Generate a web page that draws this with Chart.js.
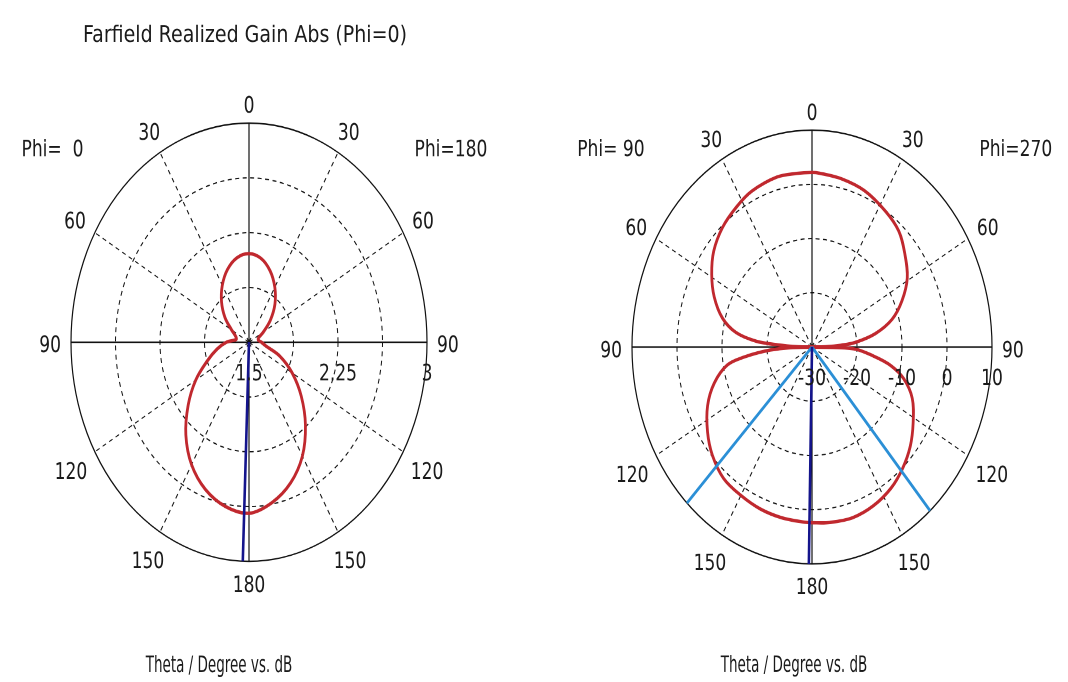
<!DOCTYPE html>
<html>
<head>
<meta charset="utf-8">
<title>Farfield Realized Gain Abs</title>
<script src="https://cdn.jsdelivr.net/npm/chart.js@4.4.1/dist/chart.umd.min.js"></script>
<style>
  html, body { margin: 0; padding: 0; background: #fff; width: 1068px; height: 682px; overflow: hidden; }
  .pane { position: absolute; top: 0; width: 534px; transform-origin: 0 0; }
  #paneA { left: 0; height: 554px; transform: scaleY(1.2310); }
  #paneB { left: 534px; height: 566px; transform: scaleY(1.2049); }
  canvas { display: block; }
</style>
</head>
<body>
<div class="pane" id="paneA"><canvas id="cutA" width="534" height="554"></canvas></div>
<div class="pane" id="paneB"><canvas id="cutB" width="534" height="566"></canvas></div>
<script>
// ---- cut 1: Phi = 0 / Phi = 180, linear dB scale 1.5 .. 3 ----
const thetaA = [0, 10, 20, 30, 40, 50, 60, 70, 80, 90, 100, 110, 120, 130, 140, 150, 160, 170, 180];
const gainPhi0 = [2.107, 2.087, 2.030, 1.950, 1.860, 1.765, 1.670, 1.620, 1.610, 1.690, 1.774, 1.874, 2.018, 2.169, 2.328, 2.468, 2.573, 2.642, 2.671];
const gainPhi180 = [2.107, 2.083, 2.020, 1.935, 1.840, 1.735, 1.640, 1.585, 1.580, 1.605, 1.643, 1.775, 1.920, 2.075, 2.240, 2.400, 2.525, 2.615, 2.671];
const rangeA = [1.5, 3];
const ringStepA = 0.375;
const ringLabelsA = [1.5, 2.25, 3];
const mainLobeA = 178;          // theta of main lobe, Phi = 0 side

// ---- cut 2: Phi = 90 / Phi = 270, dB scale -30 .. 10 ----
const thetaPhi90 = [0, 6, 14, 25, 33, 42, 51, 59, 67, 75, 81, 85, 87, 89, 90, 92, 94, 97, 100, 107, 115, 124, 132, 141, 150, 159, 168, 177, 180];
const gainPhi90 = [2.2, 2.2, 2.3, 1.7, 0.8, -0.3, -1.9, -4.0, -6.4, -9.4, -12.9, -17.5, -22.5, -27, -30, -24, -19.7, -14.8, -10.9, -7.3, -4.4, -2.0, -0.2, 1.2, 1.6, 2.0, 2.2, 2.35, 2.4];
const thetaPhi270 = [0, 3, 12, 22, 33, 42, 50, 59, 67, 74, 80, 85, 87, 89, 90, 92, 97, 101, 106, 113, 122, 130, 138, 146, 155, 164, 173, 180];
const gainPhi270 = [2.2, 2.1, 1.7, 1.1, -0.1, -1.2, -3.1, -5.3, -8.3, -11.5, -15.7, -20.4, -23.5, -27, -30, -20.7, -16.2, -12.2, -8.8, -5.8, -3.5, -1.5, 0.1, 1.4, 2.3, 2.75, 2.6, 2.4];
const rangeB = [-30, 10];
const ringStepB = 10;
const ringLabelsB = [-30, -20, -10, 0, 10];
const mainLobeB = 179;          // theta of main lobe, Phi = 90 side
const beamEdgeLeftB = 136;      // 3 dB beam edges
const beamEdgeRightB = 139;

// rim labels (theta, degrees) and captions
const rimAngles = [0, 30, 60, 90, 120, 150, 180];
const titleText = 'Farfield Realized Gain Abs (Phi=0)';
const axisCaption = 'Theta / Degree vs. dB';

const FONT_NUM = "'DejaVu Sans Condensed', 'DejaVu Sans', sans-serif";
const FONT_TITLE = "'DejaVu Sans', sans-serif";
const INK = '#1a1a1a';
const RED = '#c0282e';
const NAVY = '#14148c';
const SKY = '#2b8fd6';

// one radar index per degree, clockwise from the top
const degreeLabels = Array.from({ length: 360 }, (_, i) => String(i));
const idxRight = t => t % 360;            // right half of the plot
const idxLeft = t => (360 - t) % 360;     // left half of the plot

function pattern(thetaL, gainL, thetaR, gainR) {
  const arr = new Array(360).fill(null);
  thetaR.forEach((t, i) => { arr[idxRight(t)] = gainR[i]; });
  thetaL.forEach((t, i) => { arr[idxLeft(t)] = gainL[i]; });
  return arr;
}

// straight line from the centre (scale minimum) out to the rim at one index
function spoke(index, min, max) {
  const arr = new Array(360).fill(null);
  arr[index] = max;
  arr[(index + 359) % 360] = min;
  return arr;
}

const curveStyle = { borderColor: RED, borderWidth: 2.8, pointRadius: 0, fill: false, spanGaps: true, tension: 0.35 };
const spokeStyle = (color) => ({ borderColor: color, borderWidth: 2.6, pointRadius: 0, fill: false, spanGaps: true, tension: 0 });

function radialScale(range, step) {
  return {
    r: {
      min: range[0], max: range[1],
      startAngle: 0,
      ticks: { display: false, stepSize: step },
      pointLabels: { display: false },
      grid: {
        circular: true,
        color: '#111',
        lineWidth: (c) => (c.index === 0 ? 0 : (c.index === c.chart.scales.r.ticks.length - 1 ? 1.2 : 1))
      },
      border: {
        dash: (c) => (c.index === c.chart.scales.r.ticks.length - 1 ? [] : [4, 3.5])
      },
      angleLines: {
        display: true,
        color: '#111',
        lineWidth: (c) => (c.index % 90 === 0 ? 1.2 : (c.index % 30 === 0 ? 1 : 0)),
        borderDash: (c) => (c.index % 90 === 0 ? [] : [4, 3.5])
      }
    }
  };
}

const labelPlugin = {
  id: 'cutLabels',
  afterDraw(chart, args, o) {
    const r = chart.scales.r;
    const ctx = chart.ctx;
    const R = r.drawingArea;
    const s = o.stretch;
    ctx.save();
    ctx.fillStyle = INK;
    ctx.textBaseline = 'middle';

    // theta labels around the rim, mirrored on both halves
    ctx.textAlign = 'center';
    ctx.font = o.numSize + 'px ' + FONT_NUM;
    const h = o.numSize * 0.73;
    rimAngles.forEach(t => {
      const txt = String(t);
      const w = ctx.measureText(txt).width;
      const indices = (t === 0 || t === 180) ? [idxRight(t)] : [idxRight(t), idxLeft(t)];
      indices.forEach(k => {
        const a = r.getIndexAngle(k);
        const ext = Math.abs(Math.sin(a)) * w / 2 + Math.abs(Math.cos(a)) * h / 2;
        const p = r.getPointPosition(k, R + o.rimGap + ext);
        ctx.fillText(txt, p.x, p.y + o.rimDrop / s);
      });
    });

    // scale values under the horizontal axis
    o.ringLabels.forEach(v => {
      const x = r.xCenter + r.getDistanceFromCenterForValue(v);
      ctx.fillText(String(v), x, r.yCenter + o.tickDrop / s);
    });

    // Phi labels
    const yPhi = o.phiY / s;
    ctx.textAlign = 'right';
    ctx.fillText(o.phiLeft, r.xCenter - R * 0.93, yPhi);
    ctx.textAlign = 'left';
    ctx.fillText(o.phiRight, r.xCenter + R * 0.93, yPhi);

    // captions
    ctx.textAlign = 'center';
    if (o.title) {
      ctx.font = o.titleSize + 'px ' + FONT_TITLE;
      ctx.fillText(o.title, r.xCenter + o.titleDx, o.titleY / s);
    }
    ctx.font = o.capSize + 'px ' + FONT_NUM;
    ctx.save();
    ctx.translate(r.xCenter + o.captionDx, o.captionY / s);
    ctx.scale(1, o.capTall);
    ctx.fillText(axisCaption, 0, 0);
    ctx.restore();
    ctx.restore();
  }
};

function makeChart(id, datasets, range, step, layout, labelOpts) {
  return new Chart(document.getElementById(id), {
    type: 'radar',
    data: { labels: degreeLabels, datasets },
    options: {
      responsive: false,
      devicePixelRatio: 2,
      animation: false,
      layout: { padding: layout },
      scales: radialScale(range, step),
      plugins: {
        legend: { display: false },
        tooltip: { enabled: false },
        cutLabels: labelOpts
      }
    },
    plugins: [labelPlugin]
  });
}

makeChart('cutA', [
  Object.assign({ data: spoke(idxLeft(mainLobeA), rangeA[0], rangeA[1]) }, spokeStyle(NAVY)),
  Object.assign({ data: pattern(thetaA, gainPhi0, thetaA, gainPhi180) }, curveStyle)
], rangeA, ringStepA, { left: 71, right: 107, top: 100, bottom: 98 }, {
  stretch: 1.2310, numSize: 19, rimGap: 10, rimDrop: 4, tickDrop: 32, ringLabels: ringLabelsA,
  phiLeft: 'Phi=  0', phiRight: 'Phi=180', phiY: 150,
  title: titleText, titleSize: 19, titleDx: -4, titleY: 36,
  capSize: 15, capTall: 1.22, captionDx: -30, captionY: 666
});

makeChart('cutB', [
  Object.assign({ data: spoke(idxLeft(mainLobeB), rangeB[0], rangeB[1]) }, spokeStyle(NAVY)),
  Object.assign({ data: spoke(idxLeft(beamEdgeLeftB), rangeB[0], rangeB[1]) }, spokeStyle(SKY)),
  Object.assign({ data: spoke(idxRight(beamEdgeRightB), rangeB[0], rangeB[1]) }, spokeStyle(SKY)),
  Object.assign({ data: pattern(thetaPhi90, gainPhi90, thetaPhi270, gainPhi270) }, curveStyle)
], rangeB, ringStepB, { left: 98, right: 75, top: 108, bottom: 97 }, {
  stretch: 1.2049, numSize: 19, rimGap: 10, rimDrop: 4, tickDrop: 32, ringLabels: ringLabelsB,
  phiLeft: 'Phi= 90', phiRight: 'Phi=270', phiY: 150,
  title: null, titleSize: 19, titleDx: 0, titleY: 36,
  capSize: 15, capTall: 1.22, captionDx: -18, captionY: 666
});
</script>
</body>
</html>
